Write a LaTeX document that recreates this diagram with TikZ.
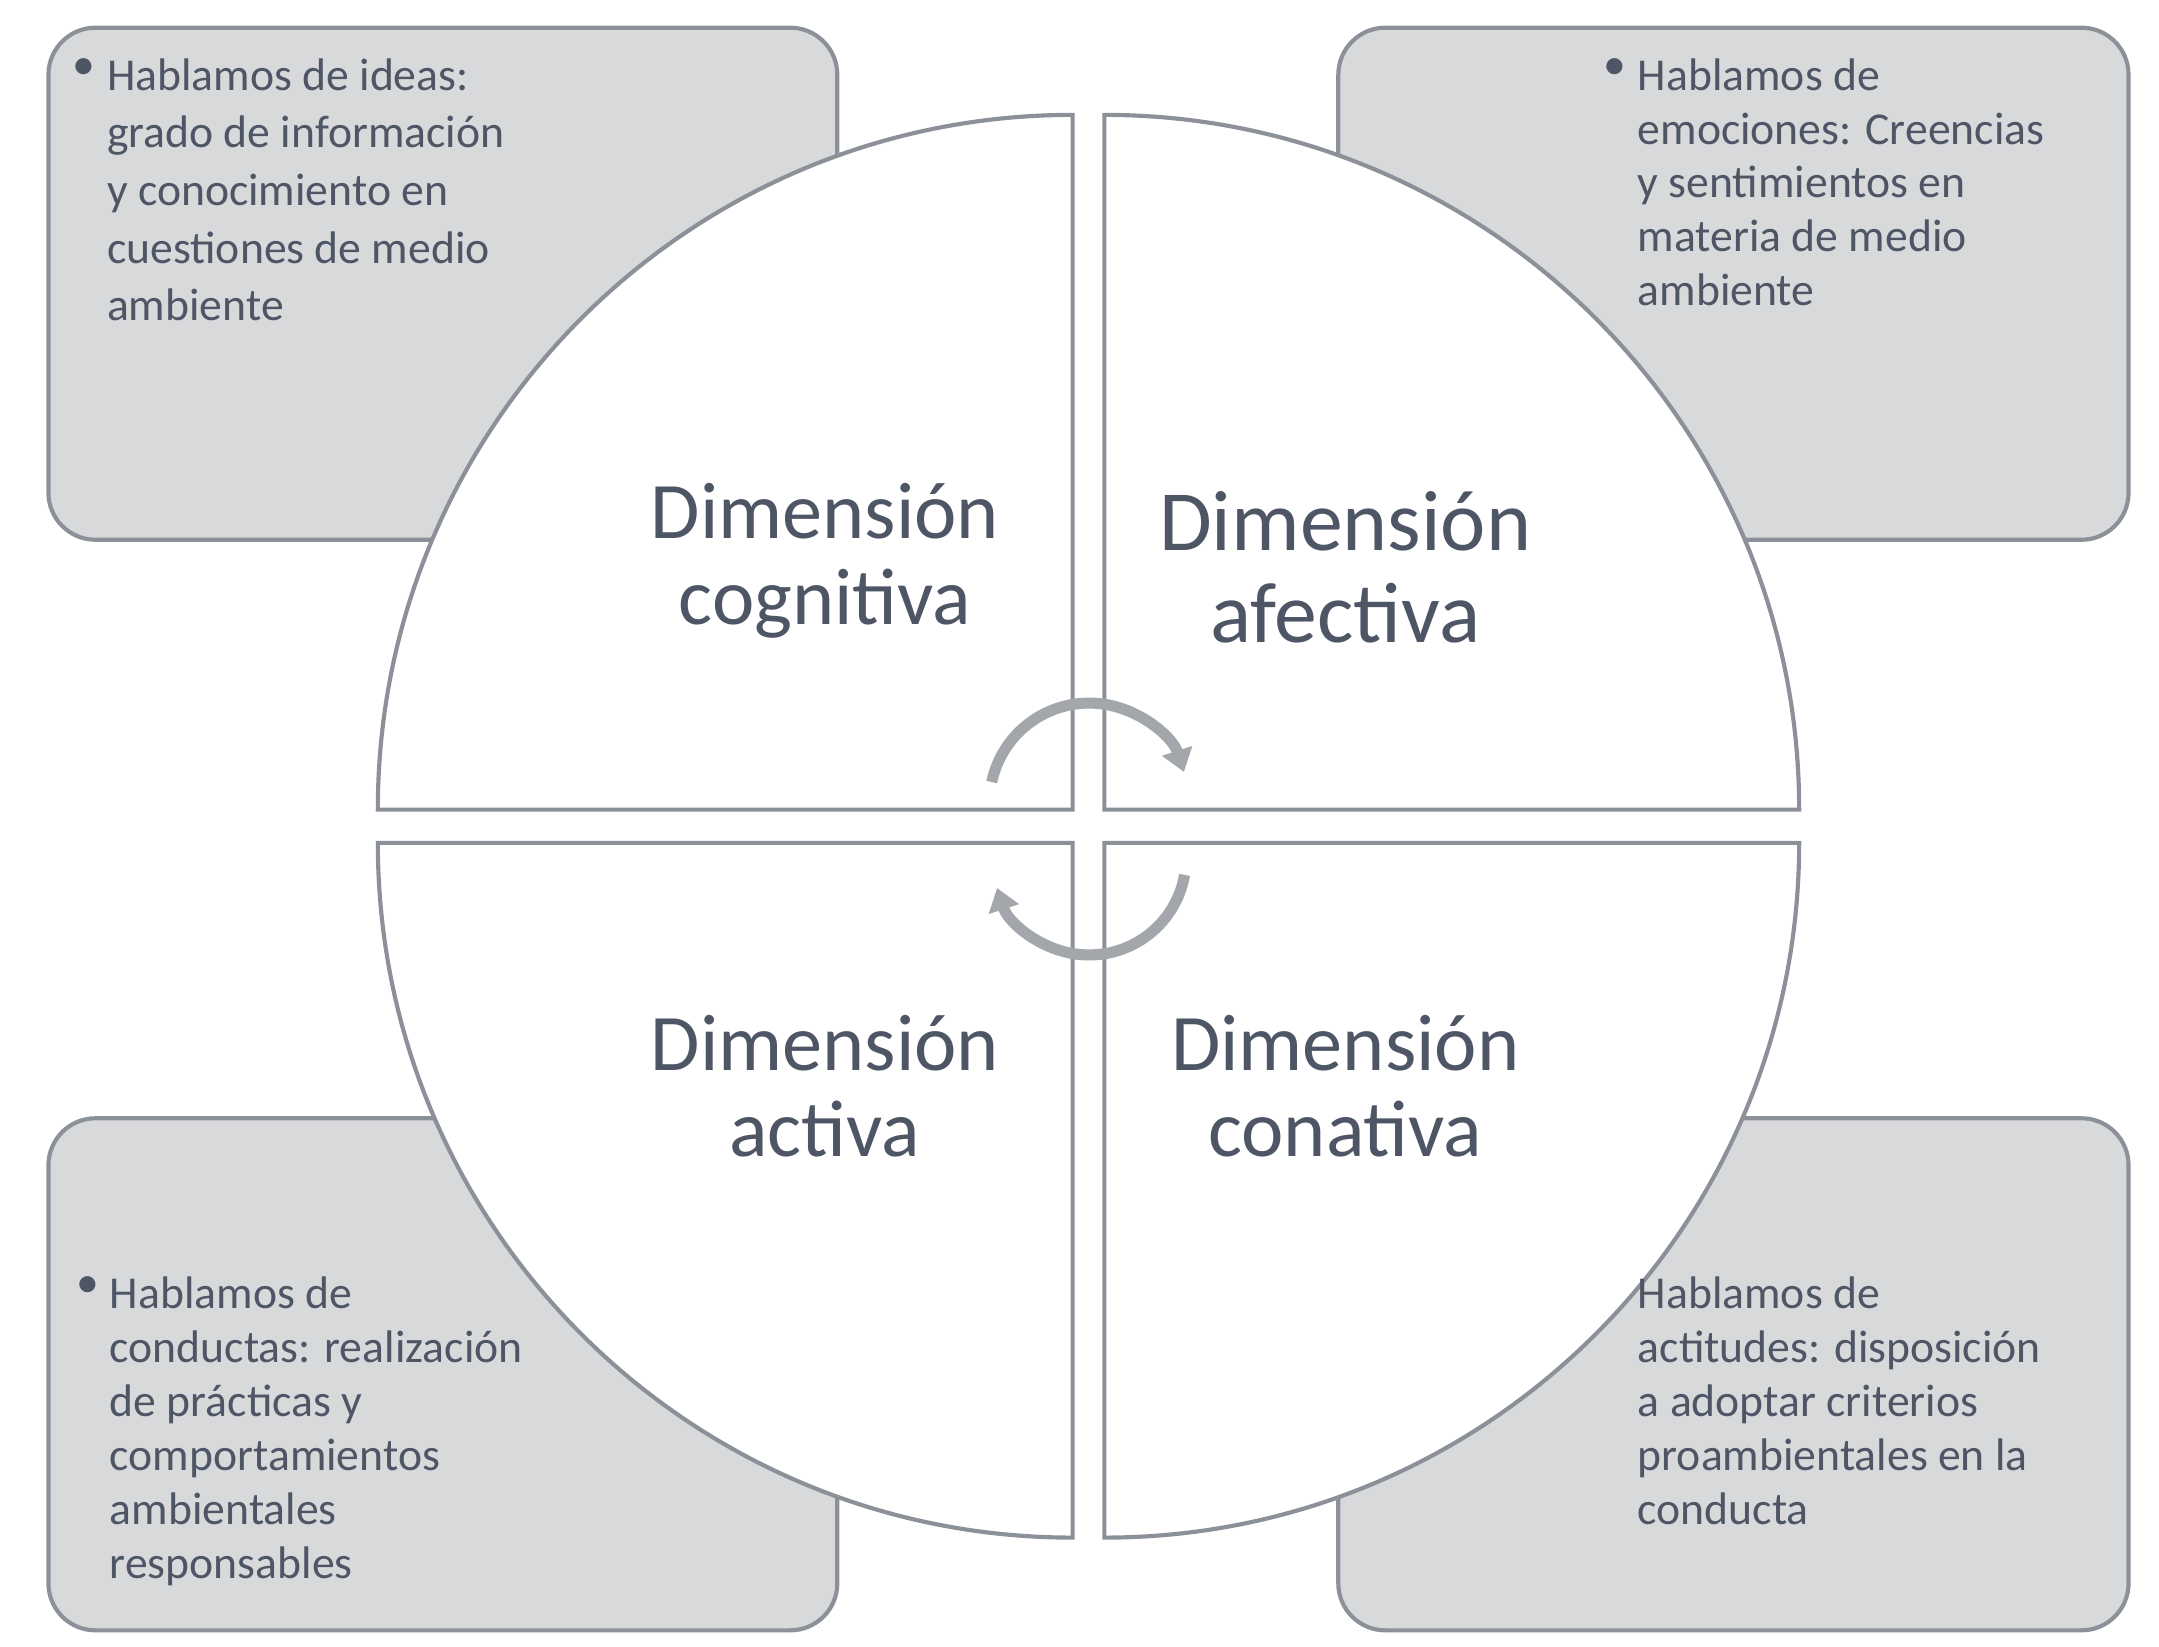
\documentclass[tikz,border=0pt]{standalone}
\usepackage{fontspec}
\setmainfont{Carlito}
\usetikzlibrary{arrows.meta}
\definecolor{boxfill}{HTML}{D8D9DB}
\definecolor{edge}{HTML}{8C9199}
\definecolor{txt}{HTML}{4E5666}
\definecolor{arr}{HTML}{A3A6AB}
\begin{document}
\begin{tikzpicture}[x=0.5pt,y=0.5pt,
  box/.style={fill=boxfill,draw=edge,line width=1.5pt,rounded corners=17pt},
  quad/.style={fill=white,draw=edge,line width=1.5pt},
  dim/.style={font=\fontsize{29}{31}\selectfont,text=txt,align=center},
  btxt/.style={font=\fontsize{16.5}{20.3}\selectfont,text=txt,align=left,anchor=north west,inner sep=0pt},
  cyc/.style={draw=arr,line width=4pt,-{Triangle[length=8pt,width=11pt]}}]
\useasboundingbox (0,0) rectangle (1560,-1190);
\fill[white] (0,0) rectangle (1560,-1190);
\draw[box] (35,-20) rectangle (605,-390);
\draw[box] (967,-20) rectangle (1538,-390);
\draw[box] (35,-808) rectangle (605,-1178);
\draw[box] (967,-808) rectangle (1538,-1178);
% quadrants
\draw[quad] (775,-585) -- (273,-585) arc[start angle=180,end angle=90,radius=251pt] -- cycle;
\draw[quad] (798,-585) -- (798,-83) arc[start angle=90,end angle=0,radius=251pt] -- cycle;
\draw[quad] (775,-609) -- (775,-1111) arc[start angle=270,end angle=180,radius=251pt] -- cycle;
\draw[quad] (798,-609) -- (1300,-609) arc[start angle=0,end angle=-90,radius=251pt] -- cycle;
% cycle arrows
\coordinate (c1) at (787,-580);
\coordinate (c2) at (787,-620);
\draw[cyc] ([shift={(168:72)}]c1) arc[start angle=168,end angle=18,radius=36pt];
\draw[cyc] ([shift={(-10:70)}]c2) arc[start angle=-10,end angle=-162,radius=35pt];
% labels
\node[dim] (cog) at (596,-405) {Dimensión\\cognitiva};
\node[dim,font=\fontsize{31}{33}\selectfont] (afe) at (972,-410) {Dimensión\\afectiva};
\node[dim] (act) at (596,-785) {Dimensión\\activa};
\node[dim] (con) at (972,-785) {Dimensión\\conativa};
% box texts
\node[btxt,font=\fontsize{16.5}{20.8}\selectfont] (t1) at (77,-42) {Hablamos de ideas:\\grado de información\\y conocimiento en\\cuestiones de medio\\ambiente};
\node[btxt] (b1) at (52,-42) {•};
\node[btxt,font=\fontsize{16.5}{19.4}\selectfont] (t2) at (1183,-42) {Hablamos de\\emociones: Creencias\\y sentimientos en\\materia de medio\\ambiente};
\node[btxt] (b2) at (1158,-42) {•};
\node[btxt,font=\fontsize{16.5}{19.5}\selectfont] (t3) at (79,-922) {Hablamos de\\conductas: realización\\de prácticas y\\comportamientos\\ambientales\\responsables};
\node[btxt] (b3) at (55,-922) {•};
\node[btxt,font=\fontsize{16.5}{19.5}\selectfont] (t4) at (1183,-922) {Hablamos de\\actitudes: disposición\\a adoptar criterios\\proambientales en la\\conducta};
\end{tikzpicture}
\end{document}
